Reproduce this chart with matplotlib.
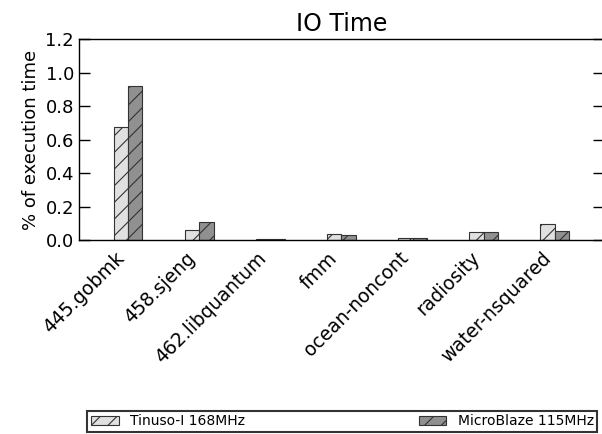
import matplotlib
matplotlib.use("Agg")
import matplotlib.pyplot as plt
import numpy as np

categories = ["445.gobmk", "458.sjeng", "462.libquantum", "fmm",
              "ocean-noncont", "radiosity", "water-nsquared"]
tinuso = [0.673, 0.060, 0.003, 0.034, 0.014, 0.050, 0.094]
microblaze = [0.919, 0.106, 0.004, 0.028, 0.010, 0.046, 0.052]
series_names = ["Tinuso-I 168MHz", "MicroBlaze 115MHz"]
yticks = [0.0, 0.2, 0.4, 0.6, 0.8, 1.0, 1.2]

plt.rcParams['hatch.linewidth'] = 0.8
fig = plt.figure(figsize=(6.02, 4.34), dpi=100)
ax = fig.add_axes([0.131, 0.447, 0.873, 0.463])

x = np.arange(len(categories))
w = 0.2
b1 = ax.bar(x - w/2, tinuso, w, color="#e0e0e0", edgecolor="#333333",
            linewidth=0.8, hatch="//", label=series_names[0])
b2 = ax.bar(x + w/2, microblaze, w, color="#909090", edgecolor="#333333",
            linewidth=0.8, hatch="//", label=series_names[1])

ax.set_xlim(-0.695, 6.7)
ax.set_ylim(0, 1.2)
ax.set_yticks(yticks)
ax.set_yticklabels([f"{v:.1f}" for v in yticks], fontsize=13)
ax.tick_params(axis="y", direction="in", length=8, right=True, width=1)
ax.set_xticks(x)
ax.set_xticklabels(categories, rotation=45, ha="right", fontsize=13.5)
ax.tick_params(axis="x", length=0, pad=6)
ax.set_ylabel("% of execution time", fontsize=13)
ax.set_title("IO Time", fontsize=17, pad=6)
for s in ax.spines.values():
    s.set_linewidth(1)

leg = fig.legend(handles=[b1, b2], loc="lower left",
                 bbox_to_anchor=(0.145, 0.005, 0.847, 0.055), mode="expand",
                 ncol=2, fontsize=10, frameon=True, fancybox=False,
                 borderaxespad=0, handlelength=2, handleheight=0.6,
                 borderpad=0.25)
leg.get_frame().set_edgecolor("black")
leg.get_frame().set_linewidth(1.5)

fig.savefig("out.png", dpi=100)
